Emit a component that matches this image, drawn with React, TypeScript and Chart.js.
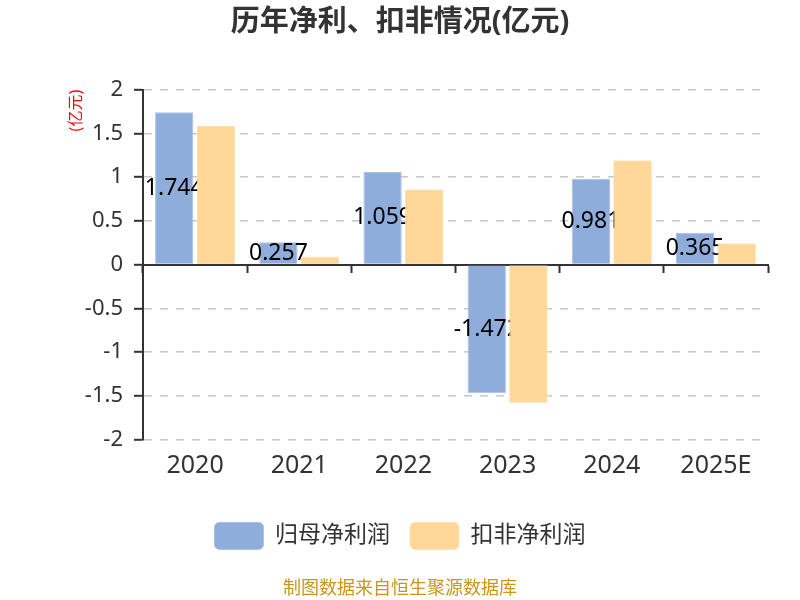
import { useEffect, useRef } from 'react';
import { Chart, registerables } from 'chart.js';

Chart.register(...registerables);

const FONT = '"Noto Sans", "Noto Sans CJK SC", sans-serif';

const years = ['2020', '2021', '2022', '2023', '2024', '2025E'];
const netProfit = [1.744, 0.257, 1.059, -1.472, 0.981, 0.365];
const deductedProfit = [1.59, 0.09, 0.86, -1.58, 1.19, 0.24];
const seriesNames = ['归母净利润', '扣非净利润'];

const BLUE = '#8eaddb';
const ORANGE = '#ffd899';

// value labels in the middle of the blue bars; the orange bars are drawn again on top
const barLabels = {
  id: 'barLabels',
  afterDatasetsDraw(chart: any) {
    const ctx = chart.ctx;
    ctx.save();
    ctx.font = `23px ${FONT}`;
    ctx.fillStyle = '#000';
    ctx.textAlign = 'center';
    ctx.textBaseline = 'middle';
    chart.getDatasetMeta(0).data.forEach((bar: any, i: number) => {
      const { x, y, base } = bar.getProps(['x', 'y', 'base'], true);
      ctx.fillText(String(netProfit[i]), x, (y + base) / 2);
    });
    ctx.restore();
    chart.getDatasetMeta(1).data.forEach((bar: any) => bar.draw(ctx));
  },
};

export default function App() {
  const canvasRef = useRef<HTMLCanvasElement>(null);

  useEffect(() => {
    if (!canvasRef.current) return;
    const chart = new Chart(canvasRef.current, {
      type: 'bar',
      data: {
        labels: years,
        datasets: [
          {
            label: seriesNames[0], data: netProfit, backgroundColor: BLUE,
            borderColor: '#a9c1e6', borderWidth: 1, xAxisID: 'x', yAxisID: 'y',
          },
          {
            label: seriesNames[1], data: deductedProfit, backgroundColor: ORANGE,
            borderColor: '#ffe3b5', borderWidth: 1, xAxisID: 'x', yAxisID: 'y',
          },
        ],
      },
      options: {
        animation: false,
        responsive: true,
        maintainAspectRatio: false,
        categoryPercentage: 0.8,
        barPercentage: 0.92,
        layout: { padding: { left: 32, right: 32, top: 0, bottom: 0 } },
        plugins: {
          title: {
            display: true,
            text: '历年净利、扣非情况(亿元)',
            color: '#333',
            font: { family: FONT, size: 29, weight: 'bold' },
            padding: { top: 5, bottom: 50 },
          },
          subtitle: {
            display: true,
            position: 'bottom',
            text: '制图数据来自恒生聚源数据库',
            color: '#c9961a',
            font: { family: FONT, size: 18 },
            padding: { top: 19, bottom: 0 },
          },
          legend: {
            position: 'bottom',
            labels: {
              boxWidth: 49,
              boxHeight: 27,
              useBorderRadius: true,
              borderRadius: 5,
              padding: 20,
              color: '#333',
              font: { family: FONT, size: 23 },
            },
          },
          tooltip: { enabled: false },
        },
        scales: {
          x: {
            type: 'category',
            position: 'bottom',
            offset: true,
            grid: { display: false, drawTicks: false },
            border: { display: false },
            ticks: { color: '#333', font: { family: FONT, size: 25 }, padding: 11 },
            afterFit: (s: any) => { s.height = 63; },
          },
          x2: {
            type: 'category',
            position: { y: 0 },
            offset: true,
            grid: {
              drawOnChartArea: false, drawTicks: true, tickLength: 7,
              tickColor: '#333', tickWidth: 2, offset: true,
            },
            border: { display: true, color: '#333', width: 2 },
            ticks: { display: false },
          },
          y: {
            min: -2,
            max: 2,
            afterFit: (s: any) => { s.width = 111; },
            ticks: {
              stepSize: 0.5,
              color: '#333',
              font: { family: FONT, size: 22 },
              padding: 11,
              callback: (v: any) => String(Number(v)),
            },
            grid: {
              color: (c: any) => (c.tick && c.tick.value === 0 ? 'rgba(0,0,0,0)' : '#cacaca'),
              lineWidth: 1.6,
              tickColor: '#333',
              tickWidth: 2,
              tickLength: 9,
              tickBorderDash: [],
            },
            border: { display: true, color: '#333', width: 2, dash: [8, 8] },
            title: {
              display: true,
              text: '(亿元)',
              color: 'red',
              align: 'end',
              font: { family: FONT, size: 16 },
              padding: { top: 35, bottom: 0 },
            },
          },
        },
      } as any,
      plugins: [barLabels],
    });
    return () => chart.destroy();
  }, []);

  return (
    <div style={{ position: 'fixed', left: 0, top: 0, width: 800, height: 600, background: '#fff' }}>
      <canvas ref={canvasRef} />
    </div>
  );
}
